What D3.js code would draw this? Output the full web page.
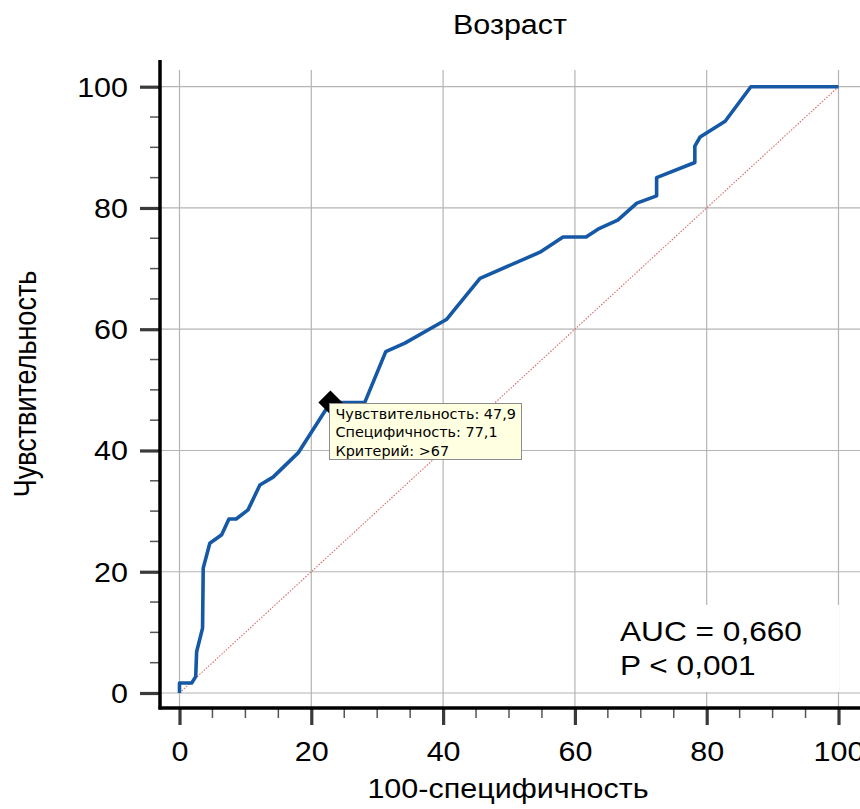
<!DOCTYPE html>
<html>
<head>
<meta charset="utf-8">
<script src="https://cdn.jsdelivr.net/npm/d3@7"></script>
<style>
  html, body { margin: 0; padding: 0; background: #fff; }
  svg { display: block; font-family: "Liberation Sans", Arial, sans-serif; }
</style>
</head>
<body>
<svg id="chart" width="860" height="809"></svg>
<script>
// ROC curve: 100-specificity (x) vs sensitivity (y), in percent
const fpr = [0, 0, 1.85, 2.46, 2.6, 3.5, 3.6, 4.6, 6.4, 7.5, 8.6, 10.4, 12.2, 14.2, 18.0,
  22.9, 28.1, 31.3, 34.2, 40.5, 45.6, 54.7, 58.2, 61.7, 63.5, 66.5, 69.4, 72.4, 72.4,
  78.2, 78.2, 79.0, 82.8, 86.7, 100];
const tpr = [0, 1.65, 1.65, 2.7, 6.8, 10.7, 20.6, 24.7, 26.1, 28.7, 28.7, 30.2, 34.3, 35.6, 39.6,
  47.9, 47.9, 56.3, 57.7, 61.6, 68.4, 72.7, 75.2, 75.2, 76.5, 78.0, 80.8, 82.0, 85.0,
  87.5, 90.2, 91.7, 94.3, 100, 100];

// Optimal criterion point
const optimum = { fpr: 22.9, sens: 47.9, spec: 77.1, criterion: ">67" };
const tooltipLines = [
  "Чувствительность: 47,9",
  "Специфичность: 77,1",
  "Критерий: >67"
];

const majorTicks = [0, 20, 40, 60, 80, 100];
const minorTicks = d3.range(0, 101, 5).filter(v => v % 20 !== 0);
const statLines = ["AUC = 0,660", "P < 0,001"];

const title = "Возраст";
const xTitle = "100-специфичность";
const yTitle = "Чувствительность";

const svg = d3.select("#chart");
const x = d3.scaleLinear().domain([0, 100]).range([179.5, 838.5]);
const y = d3.scaleLinear().domain([0, 100]).range([693, 86.7]);

const axisLeftX = 160, axisBottomY = 708;
const WIDE = 1.13; // horizontal glyph widening used for all text

// grid
const grid = svg.append("g").attr("stroke", "#b4b4b4").attr("stroke-width", 1.2);
grid.selectAll("line.v").data(majorTicks).join("line")
  .attr("x1", d => x(d)).attr("x2", d => x(d))
  .attr("y1", 70).attr("y2", axisBottomY);
grid.selectAll("line.h").data(majorTicks).join("line")
  .attr("x1", axisLeftX).attr("x2", 860)
  .attr("y1", d => y(d)).attr("y2", d => y(d));

// statistics panel background
svg.append("rect").attr("x", 600).attr("y", 605).attr("width", 239).attr("height", 87)
  .attr("fill", "#fff");

// reference diagonal
svg.append("line")
  .attr("x1", x(0)).attr("y1", y(0)).attr("x2", x(100)).attr("y2", y(100))
  .attr("stroke", "#d96a6a").attr("stroke-width", 1.1).attr("stroke-dasharray", "1.5,1.5");

// ROC curve
const line = d3.line().x(d => x(d[0])).y(d => y(d[1]));
svg.append("path")
  .datum(fpr.map((v, i) => [v, tpr[i]]))
  .attr("d", line)
  .attr("fill", "none")
  .attr("stroke", "#1558a6")
  .attr("stroke-width", 3.6)
  .attr("stroke-linejoin", "round");

// axes
const axisY = d3.axisLeft(y).tickValues(majorTicks).tickSize(20).tickFormat(d3.format("d"));
const gY = svg.append("g").attr("transform", `translate(${axisLeftX},0)`).call(axisY);
const axisX = d3.axisBottom(x).tickValues(majorTicks).tickSize(17).tickFormat(d3.format("d"));
const gX = svg.append("g").attr("transform", `translate(0,${axisBottomY})`).call(axisX);
[gY, gX].forEach(g => {
  g.select(".domain").remove();
  g.selectAll(".tick line").attr("stroke", "#3a3a3a").attr("stroke-width", 3.2);
  g.selectAll(".tick text").attr("fill", "#000")
    .attr("transform", `scale(${WIDE},1)`)
    .style("font-family", "'Liberation Sans', Arial, sans-serif")
    .style("font-size", "27px");
});
gY.selectAll(".tick text").attr("x", -32 / WIDE).attr("dy", "0.35em");
gX.selectAll(".tick text").attr("y", 34).attr("dy", "0.71em");

// minor ticks
svg.append("g").selectAll("line").data(minorTicks).join("line")
  .attr("x1", axisLeftX - 10).attr("x2", axisLeftX)
  .attr("y1", d => y(d)).attr("y2", d => y(d))
  .attr("stroke", "#555").attr("stroke-width", 1.5);
svg.append("g").selectAll("line").data(minorTicks).join("line")
  .attr("x1", d => x(d)).attr("x2", d => x(d))
  .attr("y1", axisBottomY).attr("y2", axisBottomY + 10)
  .attr("stroke", "#555").attr("stroke-width", 1.5);

// axis lines
svg.append("line").attr("x1", axisLeftX).attr("x2", axisLeftX)
  .attr("y1", 60).attr("y2", axisBottomY + 1.5)
  .attr("stroke", "#000").attr("stroke-width", 3.5);
svg.append("line").attr("x1", axisLeftX - 1.5).attr("x2", 860)
  .attr("y1", axisBottomY).attr("y2", axisBottomY)
  .attr("stroke", "#000").attr("stroke-width", 3.5);

// optimum marker
const mx = x(optimum.fpr), my = y(optimum.sens);
svg.append("path")
  .attr("d", d3.symbol().type(d3.symbolSquare).size(290)())
  .attr("transform", `translate(${mx},${my}) rotate(45)`)
  .attr("fill", "#000");

// tooltip
const tip = svg.append("g").attr("transform", "translate(329.5,403.5)");
tip.append("rect").attr("width", 192).attr("height", 56)
  .attr("fill", "#ffffe1").attr("stroke", "#8c8c8c").attr("stroke-width", 1);
tip.selectAll("text").data(tooltipLines).join("text")
  .attr("x", 6).attr("y", (d, i) => 15 + i * 18.5)
  .style("font-family", "'DejaVu Sans', Verdana, sans-serif")
  .style("font-size", "14.4px")
  .attr("fill", "#000")
  .text(d => d);

// text placed at (px, py) and widened horizontally
function wideText(px, py, str, size, anchor) {
  return svg.append("text")
    .attr("transform", `translate(${px},${py}) scale(${WIDE},1)`)
    .attr("text-anchor", anchor || "start")
    .style("font-size", size + "px")
    .attr("fill", "#000")
    .text(str);
}

// statistics text
statLines.forEach((s, i) => wideText(620, 641 + i * 34, s, 28));

// titles
wideText(510, 34, title, 27, "middle");
wideText(508, 798, xTitle, 27, "middle");
svg.append("text").attr("transform", `translate(36,384) scale(${WIDE},1) rotate(-90)`)
  .attr("text-anchor", "middle").style("font-size", "27px").attr("fill", "#000").text(yTitle);
</script>
</body>
</html>
